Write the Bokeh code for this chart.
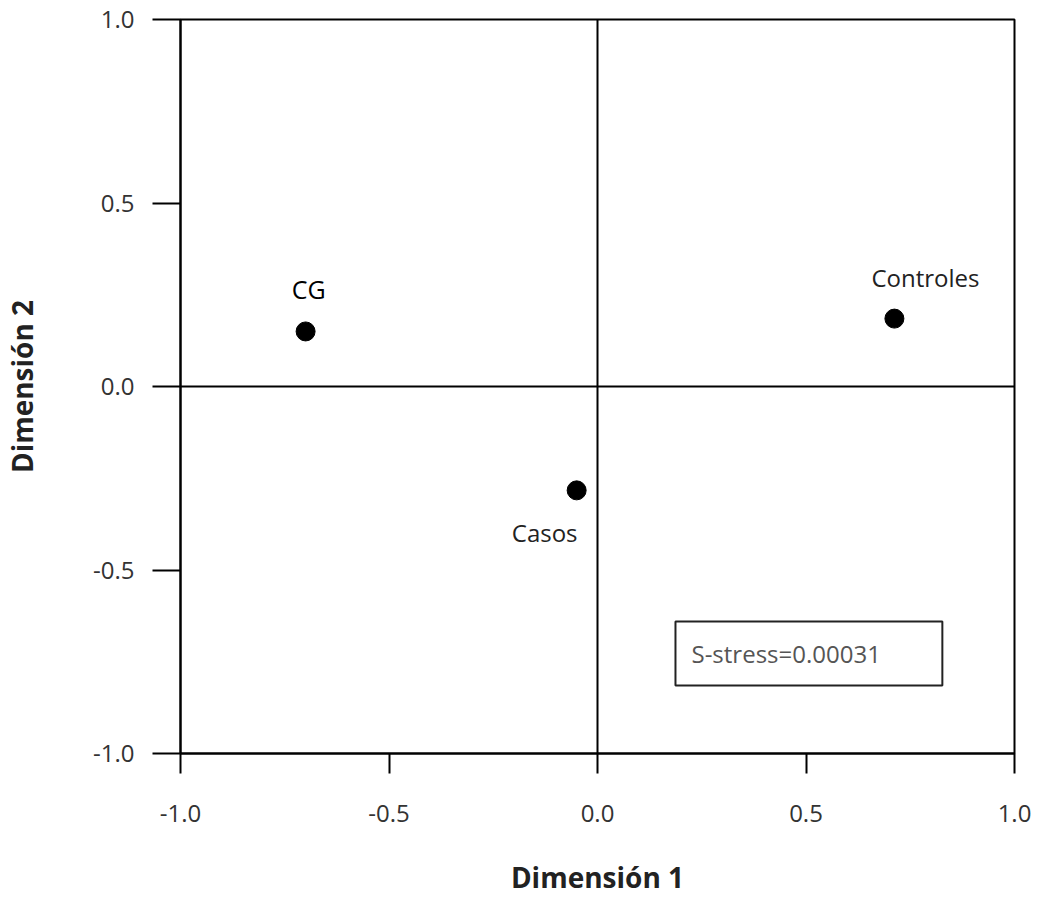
from bokeh.plotting import figure
from bokeh.models import Range1d, FixedTicker, PrintfTickFormatter, Span, BoxAnnotation, Label, ColumnDataSource
from bokeh.embed import file_html
from bokeh.resources import INLINE

# Data
groups = ["CG", "Controles", "Casos"]
dim1 = [-0.70, 0.712, -0.05]
dim2 = [0.15, 0.185, -0.283]
ticks = [-1.0, -0.5, 0.0, 0.5, 1.0]
stress_text = "S-stress=0.00031"

FONT = "Open Sans"

p = figure(width=1039, height=900, output_backend="svg", toolbar_location=None,
           x_range=Range1d(-1, 1), y_range=Range1d(-1, 1),
           min_border_left=180, min_border_right=25, min_border_top=19, min_border_bottom=147)
p.background_fill_color = "white"
p.border_fill_color = "white"
p.grid.visible = False
p.outline_line_color = "black"
p.outline_line_width = 2
p.outline_line_alpha = 1.0

for ax, tout in ((p.xaxis[0], 20), (p.yaxis[0], 28)):
    ax.ticker = FixedTicker(ticks=ticks)
    ax.formatter = PrintfTickFormatter(format="%.1f")
    ax.major_tick_out = tout
    ax.major_tick_in = 0
    ax.minor_tick_line_color = None
    ax.axis_line_color = "black"
    ax.axis_line_width = 2
    ax.major_tick_line_width = 2
    ax.major_tick_line_color = "black"
    ax.major_label_text_font = FONT
    ax.major_label_text_font_size = "24px"
    ax.major_label_text_color = "#333333"
    ax.axis_label_text_font = FONT
    ax.axis_label_text_font_size = "28px"
    ax.axis_label_text_font_style = "bold"
    ax.axis_label_text_color = "#222222"

p.xaxis.axis_label = "Dimensión 1"
p.yaxis.axis_label = "Dimensión 2"
p.xaxis.major_label_standoff = 31
p.yaxis.major_label_standoff = 18
p.xaxis.axis_label_standoff = 33
p.yaxis.axis_label_standoff = 49

# Cross lines at origin
p.add_layout(Span(location=0, dimension="width", line_color="black", line_width=2))
p.add_layout(Span(location=0, dimension="height", line_color="black", line_width=2))

src = ColumnDataSource(dict(x=dim1, y=dim2, name=groups))
p.scatter("x", "y", source=src, size=19, color="black")

# Point labels
p.add_layout(Label(x=dim1[0], y=dim2[0], text=groups[0], x_offset=3, y_offset=25,
                   text_align="center", text_baseline="bottom", text_font=FONT,
                   text_font_size="25px", text_color="black"))
p.add_layout(Label(x=dim1[1], y=dim2[1], text=groups[1], x_offset=31, y_offset=25,
                   text_align="center", text_baseline="bottom", text_font=FONT,
                   text_font_size="24px", text_color="#222222"))
p.add_layout(Label(x=dim1[2], y=dim2[2], text=groups[2], x_offset=-32, y_offset=-26,
                   text_align="center", text_baseline="top", text_font=FONT,
                   text_font_size="24px", text_color="#222222"))

# Stress box
p.add_layout(BoxAnnotation(left=0.187, right=0.827, top=-0.640, bottom=-0.815,
                           fill_color=None, fill_alpha=0, line_color="#222222",
                           line_alpha=1.0, line_width=2))
p.add_layout(Label(x=0.187, y=-0.7275, text=stress_text, x_offset=16,
                   text_align="left", text_baseline="middle", text_font=FONT,
                   text_font_size="24px", text_color="#555555"))

open("out.html", "w").write(file_html(p, INLINE))
